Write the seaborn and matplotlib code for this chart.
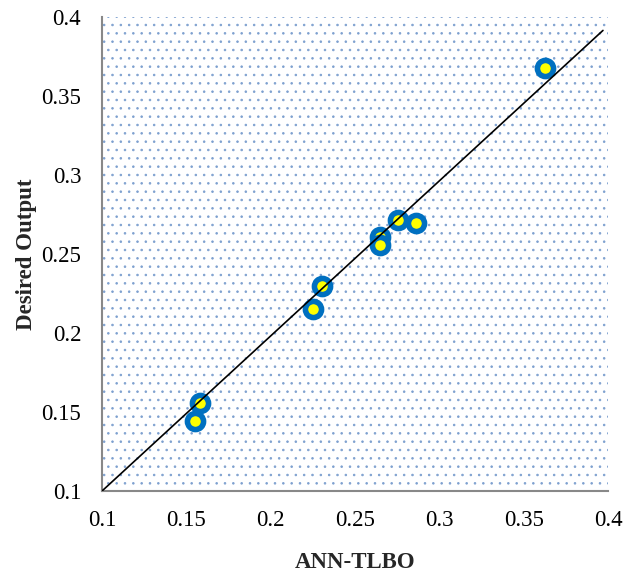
import matplotlib
matplotlib.use("Agg")
import matplotlib.pyplot as plt
import seaborn as sns
import pandas as pd
from matplotlib.patches import Rectangle

# values
ann_tlbo = [0.155, 0.158, 0.225, 0.2305, 0.2648, 0.265, 0.2755, 0.2862, 0.3626]
desired_output = [0.1443, 0.1557, 0.2152, 0.2297, 0.2608, 0.2557, 0.2715, 0.2696, 0.3677]

# trend line end points
line_x = [0.1, 0.397]
line_y = [0.1, 0.3915]

tick_values = [0.1, 0.15, 0.2, 0.25, 0.3, 0.35, 0.4]
tick_labels = ["0.1", "0.15", "0.2", "0.25", "0.3", "0.35", "0.4"]

df = pd.DataFrame({"ANN-TLBO": ann_tlbo, "Desired Output": desired_output})
df_line = pd.DataFrame({"x": line_x, "y": line_y})

sns.set_style("white")
plt.rcParams["font.family"] = ["Liberation Serif", "DejaVu Serif"]
plt.rcParams["hatch.linewidth"] = 0.6

fig = plt.figure(figsize=(6.24, 5.74), dpi=100)
ax = fig.add_axes([0.1635, 0.1446, 0.8109, 0.8258])

# dotted background
ax.add_patch(Rectangle((0, 0), 1, 1, transform=ax.transAxes, fill=False,
                       edgecolor="#7DA0CF", linewidth=0, hatch="..", zorder=0))

sns.scatterplot(data=df, x="ANN-TLBO", y="Desired Output", ax=ax,
                s=135, color="#FFFF00", edgecolor="#0070C0", linewidth=4.0,
                zorder=3, legend=False)
sns.lineplot(data=df_line, x="x", y="y", ax=ax, color="black",
             linewidth=1.2, zorder=4)

ax.set_xlim(0.1, 0.4)
ax.set_ylim(0.1, 0.4)
ax.set_xticks(tick_values)
ax.set_xticklabels(tick_labels)
ax.set_yticks(tick_values)
ax.set_yticklabels(tick_labels)

for side in ["top", "right"]:
    ax.spines[side].set_visible(False)
for side in ["left", "bottom"]:
    ax.spines[side].set_color("#888888")
    ax.spines[side].set_linewidth(1.5)

ax.tick_params(axis="both", direction="out", length=5, width=1.5,
               color="#888888", labelsize=16.5, labelcolor="black")
ax.tick_params(axis="x", pad=9)
ax.tick_params(axis="y", pad=10)

ax.set_xlabel("ANN-TLBO", fontsize=16.5, fontweight="bold", labelpad=15)
ax.set_ylabel("Desired Output", fontsize=16.5, fontweight="bold", labelpad=3)

fig.savefig("out.png", dpi=100)
